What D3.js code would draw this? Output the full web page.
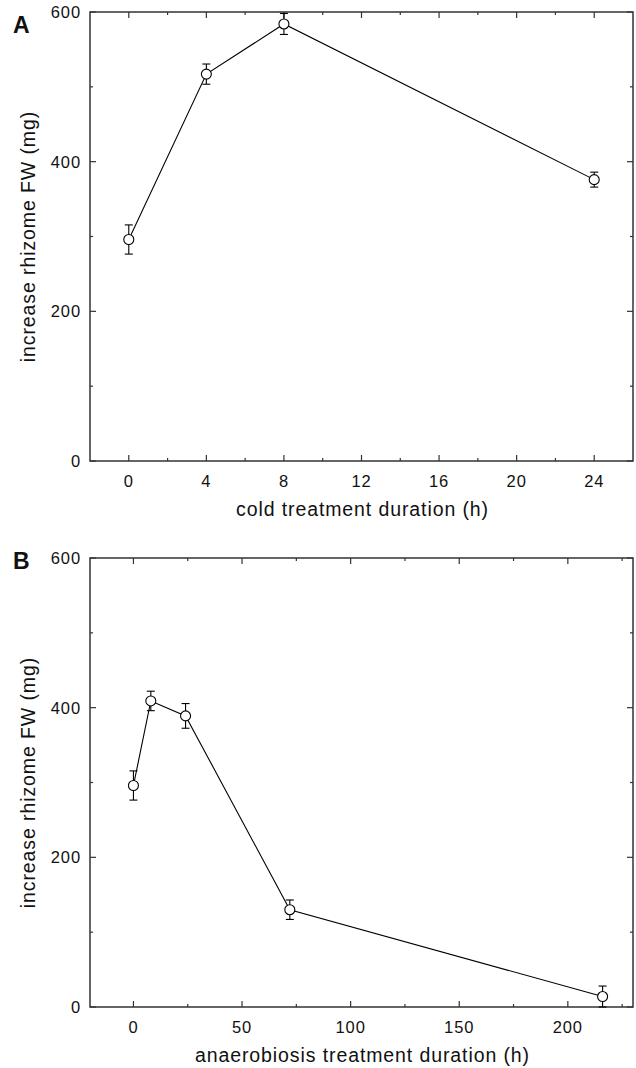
<!DOCTYPE html>
<html><head><meta charset="utf-8">
<script src="https://cdn.jsdelivr.net/npm/d3@7"></script>
<style>body{margin:0;background:#fff}svg{display:block}text{font-family:"Liberation Sans",Arial,Helvetica,sans-serif;fill:#111}</style>
</head><body>
<svg id="c" width="636" height="1068"></svg>
<script>
// Panel A: cold treatment
const coldHours = [0, 4, 8, 24];
const coldMean = [296, 517, 584, 376];
const coldErr = [19.5, 13.5, 14, 10];
// Panel B: anaerobiosis treatment
const anaHours = [0, 8, 24, 72, 216];
const anaMean = [296, 409, 389, 130, 14];
const anaErr = [19.5, 13, 16.5, 13, 14];
const yTicks = [0, 200, 400, 600];
const yMinor = [100, 300, 500];
const coldTicks = [0, 4, 8, 12, 16, 20, 24];
const coldMinor = [-2, 2, 6, 10, 14, 18, 22, 26];
const anaTicks = [0, 50, 100, 150, 200];
const anaMinor = [25, 75, 125, 175, 225];

const svg = d3.select("#c");

function panel(cfg) {
  const L = 90, R = 633, T = cfg.top, B = cfg.top + 449;
  const x = d3.scaleLinear().domain(cfg.xDomain).range([L, R]);
  const y = d3.scaleLinear().domain([0, 600]).range([B, T]);
  const g = svg.append("g");
  const frameCol = "#333";
  const tk = g.append("g").attr("stroke", frameCol).attr("stroke-width", 1.2);
  cfg.xTicks.forEach(v => {
    tk.append("line").attr("x1", x(v)).attr("x2", x(v)).attr("y1", B).attr("y2", B - 6);
    tk.append("line").attr("x1", x(v)).attr("x2", x(v)).attr("y1", T).attr("y2", T + 6);
  });
  cfg.xMinor.forEach(v => {
    if (x(v) <= L + 1 || x(v) >= R - 1) return;
    tk.append("line").attr("x1", x(v)).attr("x2", x(v)).attr("y1", B).attr("y2", B - 3);
    tk.append("line").attr("x1", x(v)).attr("x2", x(v)).attr("y1", T).attr("y2", T + 3);
  });
  yTicks.forEach(v => {
    tk.append("line").attr("x1", L).attr("x2", L + 6).attr("y1", y(v)).attr("y2", y(v));
    tk.append("line").attr("x1", R).attr("x2", R - 6).attr("y1", y(v)).attr("y2", y(v));
  });
  yMinor.forEach(v => {
    tk.append("line").attr("x1", L).attr("x2", L + 3).attr("y1", y(v)).attr("y2", y(v));
    tk.append("line").attr("x1", R).attr("x2", R - 3).attr("y1", y(v)).attr("y2", y(v));
  });
  g.append("rect").attr("x", L).attr("y", T).attr("width", R - L).attr("height", B - T)
    .attr("fill", "none").attr("stroke", frameCol).attr("stroke-width", 1.5);
  g.selectAll(".yl").data(yTicks).join("text").attr("x", 81).attr("y", d => y(d) + 6)
    .attr("text-anchor", "end").attr("font-size", 16.5).attr("letter-spacing", 0.9).text(d => d);
  g.selectAll(".xl").data(cfg.xTicks).join("text").attr("x", d => x(d)).attr("y", B + 26)
    .attr("text-anchor", "middle").attr("font-size", 16.5).attr("letter-spacing", 0.9).text(d => d);
  g.append("text").attr("x", (L + R) / 2 + 1).attr("y", B + 55).attr("text-anchor", "middle")
    .attr("font-size", 19.5).attr("letter-spacing", 0.9).text(cfg.xTitle);
  g.append("text").attr("transform", `translate(35,${(T + B) / 2}) rotate(-90)`)
    .attr("text-anchor", "middle").attr("font-size", 19.5).attr("letter-spacing", 0.9)
    .text("increase rhizome FW (mg)");
  g.append("text").attr("x", 13).attr("y", T + cfg.letterDy).attr("font-size", 23)
    .attr("font-weight", "bold").text(cfg.letter);
  const pts = cfg.xs.map((d, i) => ({ x: d, m: cfg.ms[i], e: cfg.es[i] }));
  const line = d3.line().x(d => x(d.x)).y(d => y(d.m));
  g.append("path").datum(pts).attr("d", line).attr("fill", "none").attr("stroke", "#000").attr("stroke-width", 1.1);
  const eb = g.append("g").attr("stroke", "#000").attr("stroke-width", 1.1);
  pts.forEach(d => {
    const lo = Math.max(0, d.m - d.e), hi = d.m + d.e;
    eb.append("line").attr("x1", x(d.x)).attr("x2", x(d.x)).attr("y1", y(lo)).attr("y2", y(hi));
    eb.append("line").attr("x1", x(d.x) - 4).attr("x2", x(d.x) + 4).attr("y1", y(hi)).attr("y2", y(hi));
    eb.append("line").attr("x1", x(d.x) - 4).attr("x2", x(d.x) + 4).attr("y1", y(lo)).attr("y2", y(lo));
  });
  g.selectAll(".pt").data(pts).join("circle").attr("cx", d => x(d.x)).attr("cy", d => y(d.m))
    .attr("r", 5).attr("fill", "#fff").attr("stroke", "#000").attr("stroke-width", 1.1);
}

panel({ top: 12, xDomain: [-2, 26], xTicks: coldTicks, xMinor: coldMinor,
  xTitle: "cold treatment duration (h)", letter: "A", letterDy: 21,
  xs: coldHours, ms: coldMean, es: coldErr });
panel({ top: 558, xDomain: [-20, 230], xTicks: anaTicks, xMinor: anaMinor,
  xTitle: "anaerobiosis treatment duration (h)", letter: "B", letterDy: 11,
  xs: anaHours, ms: anaMean, es: anaErr });
</script>
</body></html>
